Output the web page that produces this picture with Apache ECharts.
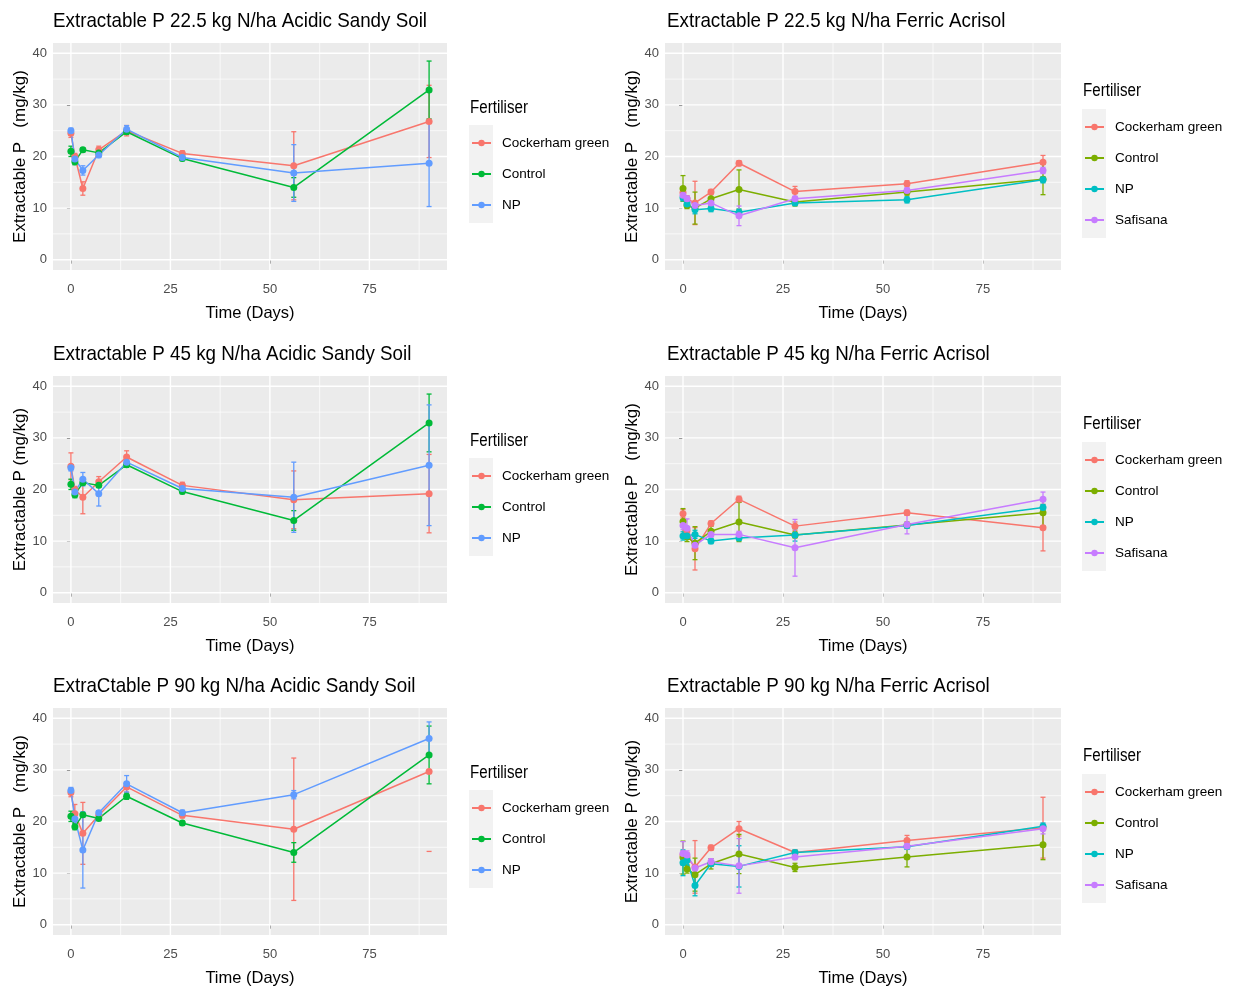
<!DOCTYPE html>
<html><head><meta charset="utf-8">
<script src="https://cdn.jsdelivr.net/npm/echarts@6/dist/echarts.min.js"></script>
<style>html,body{margin:0;padding:0;background:#fff}#c{width:1235px;height:992px}</style>
</head><body><div id="c"></div>
<script>
// ---------- DATA ----------
const days = [0, 1, 3, 7, 14, 28, 56, 90];
const yTicks = [0, 10, 20, 30, 40];
const yMinor = [5, 15, 25, 35];
const xTicks = [0, 25, 50, 75];
const xMinor = [12.5, 37.5, 62.5, 87.5];
const panelTitles = [
  'Extractable P 22.5 kg N/ha Acidic Sandy Soil',
  'Extractable P 22.5 kg N/ha Ferric Acrisol',
  'Extractable P 45 kg N/ha Acidic Sandy Soil',
  'Extractable P 45 kg N/ha Ferric Acrisol',
  'ExtraCtable P 90 kg N/ha Acidic Sandy Soil',
  'Extractable P 90 kg N/ha Ferric Acrisol'
];
const yTitles = [
  'Extractable P   (mg/kg)', 'Extractable P   (mg/kg)',
  'Extractable P (mg/kg)', 'Extractable P   (mg/kg)',
  'Extractable P   (mg/kg)', 'Extractable P (mg/kg)'
];
const xTitle = 'Time (Days)';
const legendTitle = 'Fertiliser';
const acidicFertilisers = ['Cockerham green', 'Control', 'NP'];
const ferricFertilisers = ['Cockerham green', 'Control', 'NP', 'Safisana'];

// 22.5 kg N/ha Acidic Sandy Soil
const p1_cg = [24.5, 20.0, 13.8, 21.3, 25.0, 20.6, 18.2, 26.8];
const p1_cg_err = [0.8, 0.6, 1.3, 0.7, 1.0, 0.5, 6.6, 7.0];
const p1_ctrl = [21.0, 19.0, 21.3, 20.7, 24.8, 19.6, 14.0, 32.9];
const p1_ctrl_err = [1.0, 0.6, 0.4, 0.4, 0.5, 0.4, 1.9, 5.6];
const p1_np = [25.0, 19.5, 17.3, 20.3, 25.3, 19.8, 16.8, 18.7];
const p1_np_err = [0.5, 0.8, 0.9, 0.5, 0.7, 0.4, 5.5, 8.4];

// 22.5 kg N/ha Ferric Acrisol
const p2_cg = [13.0, 11.8, 11.0, 13.1, 18.7, 13.2, 14.7, 18.9];
const p2_cg_err = [0.8, 0.6, 4.2, 0.5, 0.5, 1.0, 0.6, 1.3];
const p2_ctrl = [13.8, 10.5, 10.0, 11.8, 13.6, 11.2, 13.1, 15.6];
const p2_ctrl_err = [2.5, 0.6, 3.1, 1.2, 3.8, 0.8, 0.6, 3.0];
const p2_np = [12.0, 10.8, 9.7, 9.9, 9.2, 11.0, 11.6, 15.5];
const p2_np_err = [0.6, 0.5, 0.8, 0.6, 0.6, 0.5, 0.6, 0.6];
const p2_saf = [12.5, 11.8, 10.5, 11.0, 8.5, 11.8, 13.4, 17.3];
const p2_saf_err = [0.8, 0.6, 0.6, 0.5, 1.9, 0.5, 0.5, 0.6];

// 45 kg N/ha Acidic Sandy Soil
const p3_cg = [24.5, 20.0, 18.5, 21.5, 26.3, 20.8, 18.0, 19.2];
const p3_cg_err = [2.6, 0.6, 3.2, 1.0, 1.2, 0.6, 5.6, 7.6];
const p3_ctrl = [21.0, 19.0, 21.3, 20.8, 24.8, 19.6, 14.0, 32.9];
const p3_ctrl_err = [1.0, 0.6, 0.4, 0.4, 0.5, 0.4, 1.9, 5.6];
const p3_np = [24.2, 19.5, 22.0, 19.2, 25.3, 20.2, 18.5, 24.7];
const p3_np_err = [0.6, 0.8, 1.3, 2.4, 0.7, 0.4, 6.8, 11.7];

// 45 kg N/ha Ferric Acrisol
const p4_cg = [15.3, 12.0, 8.5, 13.4, 18.1, 12.9, 15.5, 12.6];
const p4_cg_err = [0.8, 0.8, 4.1, 0.5, 0.6, 0.8, 0.5, 4.5];
const p4_ctrl = [13.8, 10.8, 9.6, 11.9, 13.7, 11.2, 13.1, 15.5];
const p4_ctrl_err = [2.5, 0.9, 3.2, 1.0, 3.8, 0.6, 0.6, 2.6];
const p4_np = [11.0, 11.0, 11.3, 10.0, 10.6, 11.2, 13.0, 16.5];
const p4_np_err = [0.8, 0.5, 0.8, 0.5, 0.5, 1.2, 0.5, 0.6];
const p4_saf = [13.0, 12.5, 9.2, 11.3, 11.3, 8.7, 13.2, 18.1];
const p4_saf_err = [0.8, 1.8, 0.8, 0.5, 0.6, 5.5, 1.8, 1.4];

// 90 kg N/ha Acidic Sandy Soil
const p5_cg = [25.6, 21.5, 17.7, 21.2, 26.7, 21.2, 18.5, 29.7];
const p5_cg_err = [0.8, 1.8, 6.0, 0.5, 1.0, 0.5, 13.8, 15.5];
const p5_ctrl = [21.0, 19.0, 21.3, 20.6, 24.9, 19.7, 14.0, 32.9];
const p5_ctrl_err = [1.0, 0.6, 0.4, 0.4, 0.6, 0.4, 1.9, 5.6];
const p5_np = [26.0, 20.5, 14.5, 21.7, 27.3, 21.7, 25.2, 36.1];
const p5_np_err = [0.6, 1.0, 7.4, 0.4, 1.6, 0.5, 0.8, 3.2];

// 90 kg N/ha Ferric Acrisol
const p6_cg = [13.5, 13.0, 11.2, 14.9, 18.6, 14.0, 16.3, 18.8];
const p6_cg_err = [0.8, 1.0, 5.1, 0.5, 1.4, 0.5, 1.0, 5.9];
const p6_ctrl = [13.0, 10.8, 9.7, 11.8, 13.7, 11.1, 13.1, 15.5];
const p6_ctrl_err = [3.2, 0.8, 3.2, 1.0, 3.8, 0.8, 1.9, 2.9];
const p6_np = [12.0, 12.5, 7.6, 11.8, 11.3, 14.0, 15.1, 19.1];
const p6_np_err = [2.5, 1.0, 2.0, 0.5, 4.0, 0.5, 0.5, 0.6];
const p6_saf = [13.8, 13.5, 11.0, 12.2, 11.4, 13.1, 15.2, 18.6];
const p6_saf_err = [2.3, 0.8, 0.6, 0.6, 5.3, 0.5, 0.5, 1.0];

// ---------- BUILD ----------
const panels = [
  { means: [p1_cg, p1_ctrl, p1_np], errs: [p1_cg_err, p1_ctrl_err, p1_np_err], names: acidicFertilisers },
  { means: [p2_cg, p2_ctrl, p2_np, p2_saf], errs: [p2_cg_err, p2_ctrl_err, p2_np_err, p2_saf_err], names: ferricFertilisers },
  { means: [p3_cg, p3_ctrl, p3_np], errs: [p3_cg_err, p3_ctrl_err, p3_np_err], names: acidicFertilisers },
  { means: [p4_cg, p4_ctrl, p4_np, p4_saf], errs: [p4_cg_err, p4_ctrl_err, p4_np_err, p4_saf_err], names: ferricFertilisers },
  { means: [p5_cg, p5_ctrl, p5_np], errs: [p5_cg_err, p5_ctrl_err, p5_np_err], names: acidicFertilisers },
  { means: [p6_cg, p6_ctrl, p6_np, p6_saf], errs: [p6_cg_err, p6_ctrl_err, p6_np_err, p6_saf_err], names: ferricFertilisers }
];
const leftColors = ['#F8766D', '#00BA38', '#619CFF'];
const rightColors = ['#F8766D', '#7CAE00', '#00BFC4', '#C77CFF'];

const SANS = "'Liberation Sans', Arial, sans-serif";
const Y_MIN = -2, Y_MAX = 42, Y_LIM = 40;

const rowTops = [43, 376, 708];
const GH = 227;
const colLeft = [53, 665];
const colW = [394, 396];

const option = {
  animation: false,
  backgroundColor: '#ffffff',
  legend: [], grid: [], xAxis: [], yAxis: [], series: [], graphic: []
};

function gridRender(params, api) {
  const cs = params.coordSys;
  const ch = [];
  const add = (x1, y1, x2, y2, w) => ch.push({ type: 'line', shape: { x1, y1, x2, y2 }, style: { stroke: '#FFFFFF', lineWidth: w } });
  yMinor.forEach(v => { const p = api.coord([0, v]); add(cs.x, p[1], cs.x + cs.width, p[1], 0.7); });
  xMinor.forEach(v => { const p = api.coord([v, 0]); add(p[0], cs.y, p[0], cs.y + cs.height, 0.7); });
  yTicks.forEach(v => { const p = api.coord([0, v]); add(cs.x, p[1], cs.x + cs.width, p[1], 1.4); });
  xTicks.forEach(v => { const p = api.coord([v, 0]); add(p[0], cs.y, p[0], cs.y + cs.height, 1.4); });
  return { type: 'group', children: ch };
}

function makeErrRender(color) {
  return function (params, api) {
    const x = api.value(0), lo = api.value(1), hi = api.value(2);
    const pLo = api.coord([x, lo]);
    const cap = 2.5;
    const st = { stroke: color, lineWidth: 1.3 };
    const ch = [];
    if (hi <= Y_LIM) {
      const pHi = api.coord([x, hi]);
      ch.push({ type: 'line', shape: { x1: pHi[0], y1: pHi[1], x2: pLo[0], y2: pLo[1] }, style: st });
      ch.push({ type: 'line', shape: { x1: pHi[0] - cap, y1: pHi[1], x2: pHi[0] + cap, y2: pHi[1] }, style: st });
    }
    ch.push({ type: 'line', shape: { x1: pLo[0] - cap, y1: pLo[1], x2: pLo[0] + cap, y2: pLo[1] }, style: st });
    return { type: 'group', children: ch };
  };
}

panels.forEach((pn, i) => {
  const row = Math.floor(i / 2), col = i % 2;
  const top = rowTops[row];
  const left = colLeft[col];
  const w = colW[col];
  const colors = col === 0 ? leftColors : rightColors;
  const prefix = col === 0 ? 'L|' : 'R|';

  option.grid.push({ left: left, top: top, width: w, height: GH, show: true, backgroundColor: '#EBEBEB', borderWidth: 0 });

  option.xAxis.push({
    gridIndex: i, type: 'value', min: -4.5, max: 94.5,
    splitLine: { show: false }, axisLine: { show: false },
    axisTick: { show: true, length: 4, lineStyle: { color: '#333333', width: 1 }, customValues: xTicks },
    axisLabel: { color: '#4D4D4D', fontFamily: SANS, fontSize: 13, margin: 13, customValues: xTicks, formatter: v => String(v) },
    name: xTitle, nameLocation: 'middle', nameGap: 35,
    nameTextStyle: { color: '#000000', fontFamily: SANS, fontSize: 16.5 }
  });
  option.yAxis.push({
    gridIndex: i, type: 'value', min: Y_MIN, max: Y_MAX,
    splitLine: { show: false }, axisLine: { show: false },
    axisTick: { show: true, length: 4, lineStyle: { color: '#333333', width: 1 }, customValues: yTicks },
    axisLabel: { color: '#4D4D4D', fontFamily: SANS, fontSize: 13, margin: 6, customValues: yTicks, formatter: v => String(v) },
    name: yTitles[i], nameLocation: 'middle', nameRotate: 90, nameGap: 23,
    nameTextStyle: { color: '#000000', fontFamily: SANS, fontSize: 17 }
  });

  // panel title (real text, horizontally condensed like the reference)
  option.graphic.push({
    type: 'text', x: col === 0 ? 53 : 667, y: top - 22, scaleX: 0.895, scaleY: 1, silent: true,
    style: { text: panelTitles[i], font: "normal 21px 'Liberation Sans', Arial, sans-serif", fill: '#000000', textVerticalAlign: 'middle', verticalAlign: 'middle' }
  });

  option.series.push({
    type: 'custom', xAxisIndex: i, yAxisIndex: i, silent: true, z: 1,
    data: [[0, 0]], encode: { x: 0, y: 1 }, renderItem: gridRender, name: 'grid' + i
  });

  pn.names.forEach((nm, k) => {
    const errData = days.map((d, j) => [d, pn.means[k][j] - pn.errs[k][j], pn.means[k][j] + pn.errs[k][j]]);
    option.series.push({
      type: 'custom', name: 'err' + i + '_' + k, xAxisIndex: i, yAxisIndex: i, silent: true, z: 2,
      data: errData, encode: { x: 0, y: [1, 2] }, renderItem: makeErrRender(colors[k]), clip: false
    });
  });
  pn.names.forEach((nm, k) => {
    option.series.push({
      type: 'line', name: prefix + nm, xAxisIndex: i, yAxisIndex: i, z: 3,
      data: days.map((d, j) => [d, pn.means[k][j]]),
      symbol: 'circle', symbolSize: 7, showSymbol: true,
      itemStyle: { color: colors[k] },
      lineStyle: { color: colors[k], width: 1.5 },
      emphasis: { disabled: true }
    });
  });

  // legend
  const legTitleY = col === 0 ? top + 65 : top + 48;
  const firstItemY = col === 0 ? top + 100 : top + 84;
  const legLeft = col === 0 ? 470 : 1083;
  option.graphic.push({
    type: 'text', x: legLeft, y: legTitleY, scaleX: 0.84, silent: true,
    style: { text: legendTitle, font: "normal 18px 'Liberation Sans', Arial, sans-serif", fill: '#000000', textVerticalAlign: 'middle', verticalAlign: 'middle' }
  });
  const n = pn.names.length;
  option.graphic.push({
    type: 'rect', x: legLeft - 1, y: firstItemY - 18, silent: true, z: -1,
    shape: { width: 24, height: 31 * n + 5 }, style: { fill: '#F2F2F2' }
  });
  option.legend.push({
    orient: 'vertical', left: legLeft + 1, top: firstItemY - 7, padding: 0,
    itemWidth: 19, itemHeight: 8, itemGap: 17,
    data: pn.names.map(nm => prefix + nm),
    formatter: name => name.split('|')[1],
    textStyle: { fontFamily: SANS, fontSize: 13.5, lineHeight: 14, color: '#000000', padding: [0, 0, 0, 6] },
    selectedMode: false
  });
});

const chart = echarts.init(document.getElementById('c'), null, { renderer: 'canvas' });
chart.setOption(option);
</script>
</body></html>
